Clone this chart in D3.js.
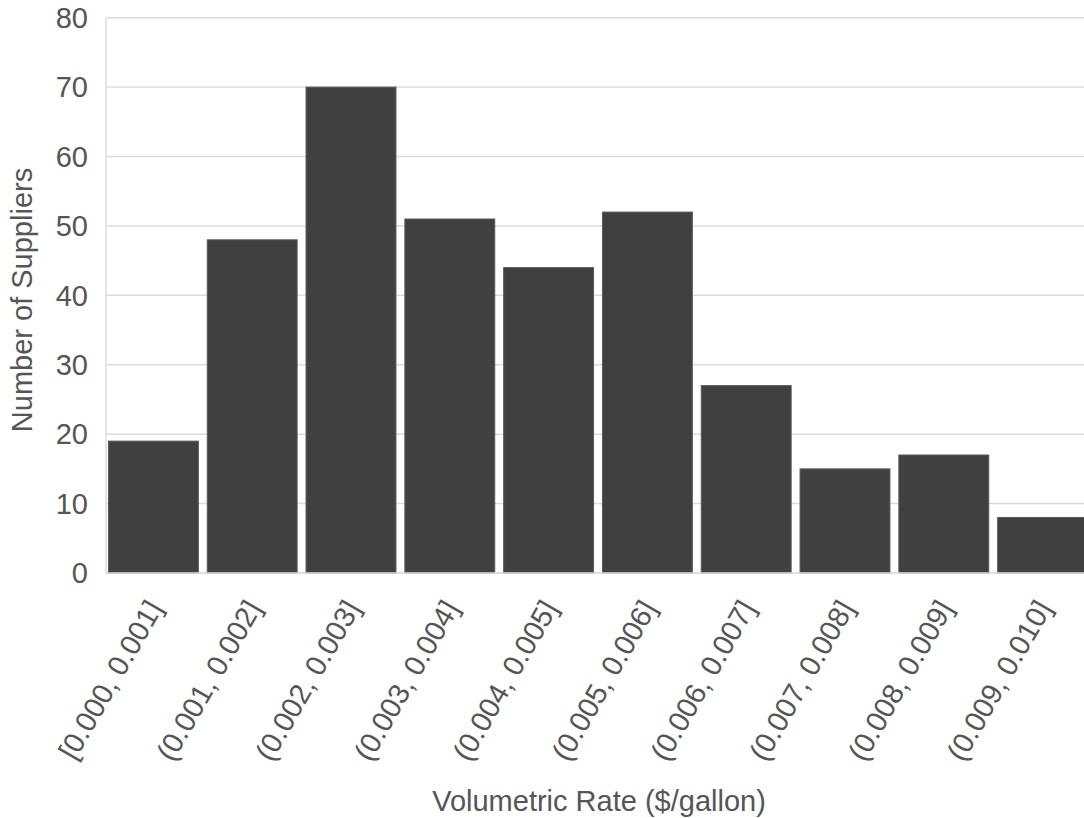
<!DOCTYPE html>
<html>
<head>
<meta charset="utf-8">
<script src="https://cdn.jsdelivr.net/npm/d3@7"></script>
<style>
  html, body { margin: 0; padding: 0; background: #fff; overflow: hidden; }
  svg { display: block; }
  text { font-family: "Liberation Sans", Arial, Helvetica, sans-serif; fill: #555; }
</style>
</head>
<body>
<svg id="chart" width="1084" height="818"></svg>
<script>
const categories = ["[0.000, 0.001]", "(0.001, 0.002]", "(0.002, 0.003]", "(0.003, 0.004]", "(0.004, 0.005]",
                    "(0.005, 0.006]", "(0.006, 0.007]", "(0.007, 0.008]", "(0.008, 0.009]", "(0.009, 0.010]"];
const counts = [19, 48, 70, 51, 44, 52, 27, 15, 17, 8];
const yTicks = [0, 10, 20, 30, 40, 50, 60, 70, 80];
const xTitle = "Volumetric Rate ($/gallon)";
const yTitle = "Number of Suppliers";

const svg = d3.select("#chart");
const plotLeft = 106, plotRight = 1092, plotTop = 17.7, plotBottom = 573;

const x = d3.scaleBand().domain(categories).range([104, plotRight]).paddingInner(0.09).paddingOuter(0.045);
const y = d3.scaleLinear().domain([0, 80]).range([plotBottom, plotTop]);

// gridlines
svg.append("g").selectAll("line").data(yTicks).join("line")
  .attr("x1", plotLeft).attr("x2", 1084)
  .attr("y1", d => y(d)).attr("y2", d => y(d))
  .attr("stroke", "#dcdcdc").attr("stroke-width", 1.5);

// left axis line
svg.append("line").attr("x1", plotLeft).attr("x2", plotLeft).attr("y1", y(80)).attr("y2", y(0))
  .attr("stroke", "#dcdcdc").attr("stroke-width", 1.5);

// bars
svg.append("g").selectAll("rect").data(counts).join("rect")
  .attr("x", (d, i) => x(categories[i]))
  .attr("width", x.bandwidth())
  .attr("y", d => y(d))
  .attr("height", d => y(0) - y(d))
  .attr("fill", "#404040")
  .attr("stroke", "#5a5a5a").attr("stroke-width", 1);

// bottom axis line
svg.append("line").attr("x1", plotLeft).attr("x2", 1084).attr("y1", y(0)).attr("y2", y(0))
  .attr("stroke", "#dcdcdc").attr("stroke-width", 1.5);

// y tick labels
svg.append("g").selectAll("text").data(yTicks).join("text")
  .attr("x", 88).attr("y", d => y(d)).attr("dy", "0.35em")
  .attr("text-anchor", "end").style("font-size", "29px")
  .text(d => d);

// x tick labels
svg.append("g").selectAll("text").data(categories).join("text")
  .attr("text-anchor", "end").style("font-size", "29px")
  .attr("transform", d => `translate(${x(d) + x.bandwidth() / 2 + 10},${plotBottom + 35}) rotate(-60)`)
  .text(d => d);

// titles
svg.append("text").attr("x", 599).attr("y", 811).attr("text-anchor", "middle")
  .style("font-size", "29px").text(xTitle);
svg.append("text").attr("transform", `translate(32,300) rotate(-90)`).attr("text-anchor", "middle")
  .style("font-size", "29px").text(yTitle);
</script>
</body>
</html>
